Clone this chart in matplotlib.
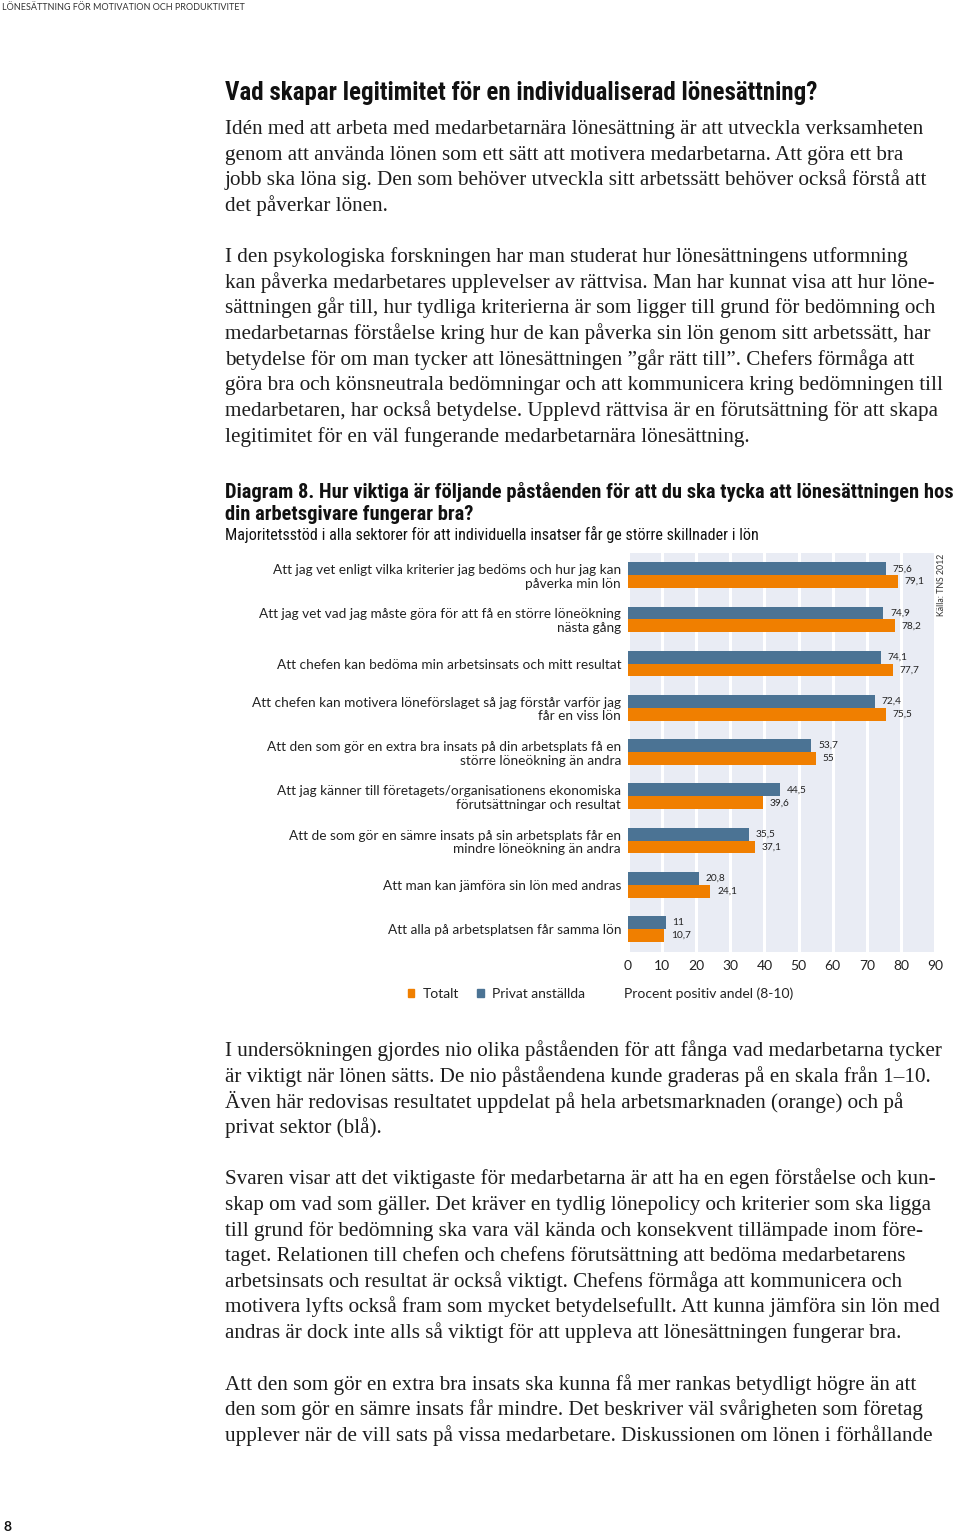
import matplotlib
matplotlib.use("Agg")
import matplotlib.pyplot as plt
from matplotlib.patches import Patch
from matplotlib import font_manager

W, H = 960, 1533

# chart data (Diagram 8)
categories = [
    "Att jag vet enligt vilka kriterier jag bedöms och hur jag kan\npåverka min lön",
    "Att jag vet vad jag måste göra för att få en större löneökning\nnästa gång",
    "Att chefen kan bedöma min arbetsinsats och mitt resultat",
    "Att chefen kan motivera löneförslaget så jag förstår varför jag\nfår en viss lön",
    "Att den som gör en extra bra insats på din arbetsplats få en\nstörre löneökning än andra",
    "Att jag känner till företagets/organisationens ekonomiska\nförutsättningar och resultat",
    "Att de som gör en sämre insats på sin arbetsplats får en\nmindre löneökning än andra",
    "Att man kan jämföra sin lön med andras",
    "Att alla på arbetsplatsen får samma lön",
]
privat = [75.6, 74.9, 74.1, 72.4, 53.7, 44.5, 35.5, 20.8, 11]
totalt = [79.1, 78.2, 77.7, 75.5, 55, 39.6, 37.1, 24.1, 10.7]
xticks = [0, 10, 20, 30, 40, 50, 60, 70, 80, 90]

BLUE = "#4b7394"
ORANGE = "#f07f00"
BG = "#e9ecf4"
TXT = "#1e1e1e"

names = {f.name for f in font_manager.fontManager.ttflist}
NARROW = ["Liberation Sans Narrow", "DejaVu Sans"] if "Liberation Sans Narrow" in names else ["Roboto Condensed", "DejaVu Sans"]
SANS = ["Lato", "DejaVu Sans"]
SERIF = ["Liberation Serif", "DejaVu Serif"]

fig = plt.figure(figsize=(W / 100, H / 100), dpi=100)
fig.patch.set_facecolor("white")


def T(px, py, s, **kw):
    fig.text(px / W, 1 - py / H, s, **kw)


# page header and footer
T(2, 10, "LÖNESÄTTNING FÖR MOTIVATION OCH PRODUKTIVITET", family=SANS, fontsize=6.5, color="#333333", va="baseline")
T(3, 1531, "8", family=SANS, fontsize=10, weight="bold", color="#111111", va="baseline")

# headline
T(225, 100, "Vad skapar legitimitet för en individualiserad lönesättning?", family=NARROW, fontsize=18, weight="bold", color="#111111", va="baseline")

body_top = [
    (128, "Idén med att arbeta med medarbetarnära lönesättning är att utveckla verksamheten"),
    (154, "genom att använda lönen som ett sätt att motivera medarbetarna. Att göra ett bra"),
    (179, "jobb ska löna sig. Den som behöver utveckla sitt arbetssätt behöver också förstå att"),
    (205, "det påverkar lönen."),
    (256, "I den psykologiska forskningen har man studerat hur lönesättningens utformning"),
    (282, "kan påverka medarbetares upplevelser av rättvisa. Man har kunnat visa att hur löne-"),
    (307, "sättningen går till, hur tydliga kriterierna är som ligger till grund för bedömning och"),
    (333, "medarbetarnas förståelse kring hur de kan påverka sin lön genom sitt arbetssätt, har"),
    (359, "betydelse för om man tycker att lönesättningen ”går rätt till”. Chefers förmåga att"),
    (384, "göra bra och könsneutrala bedömningar och att kommunicera kring bedömningen till"),
    (410, "medarbetaren, har också betydelse. Upplevd rättvisa är en förutsättning för att skapa"),
    (436, "legitimitet för en väl fungerande medarbetarnära lönesättning."),
]
body_bottom = [
    (1050, "I undersökningen gjordes nio olika påståenden för att fånga vad medarbetarna tycker"),
    (1076, "är viktigt när lönen sätts. De nio påståendena kunde graderas på en skala från 1–10."),
    (1102, "Även här redovisas resultatet uppdelat på hela arbetsmarknaden (orange) och på"),
    (1127, "privat sektor (blå)."),
    (1178, "Svaren visar att det viktigaste för medarbetarna är att ha en egen förståelse och kun-"),
    (1204, "skap om vad som gäller. Det kräver en tydlig lönepolicy och kriterier som ska ligga"),
    (1230, "till grund för bedömning ska vara väl kända och konsekvent tillämpade inom före-"),
    (1255, "taget. Relationen till chefen och chefens förutsättning att bedöma medarbetarens"),
    (1281, "arbetsinsats och resultat är också viktigt. Chefens förmåga att kommunicera och"),
    (1306, "motivera lyfts också fram som mycket betydelsefullt. Att kunna jämföra sin lön med"),
    (1332, "andras är dock inte alls så viktigt för att uppleva att lönesättningen fungerar bra."),
    (1384, "Att den som gör en extra bra insats ska kunna få mer rankas betydligt högre än att"),
    (1409, "den som gör en sämre insats får mindre. Det beskriver väl svårigheten som företag"),
    (1435, "upplever när de vill sats på vissa medarbetare. Diskussionen om lönen i förhållande"),
]
for y, line in body_top + body_bottom:
    T(225, y + 6, line, family=SERIF, fontsize=15.2, color=TXT, va="baseline")

# chart titles
T(225, 498, "Diagram 8. Hur viktiga är följande påståenden för att du ska tycka att lönesättningen hos",
  family=NARROW, fontsize=14.8, weight="bold", color="#111111", va="baseline")
T(225, 520, "din arbetsgivare fungerar bra?", family=NARROW, fontsize=14.8, weight="bold", color="#111111", va="baseline")
T(225, 540, "Majoritetsstöd i alla sektorer för att individuella insatser får ge större skillnader i lön",
  family=NARROW, fontsize=11.6, color="#111111", va="baseline")

# chart
ax = fig.add_axes([628 / W, 1 - 952 / H, (935 - 628) / W, (952 - 553) / H])
ax.set_facecolor(BG)
pos = list(range(len(categories)))
bh = 0.29
ax.barh([p - bh / 2 for p in pos], privat, height=bh, color=BLUE, zorder=3)
ax.barh([p + bh / 2 for p in pos], totalt, height=bh, color=ORANGE, zorder=3)


def fmt(v):
    return str(int(v)) if float(v).is_integer() else str(v).replace(".", ",")


for p, a, b in zip(pos, privat, totalt):
    ax.text(a + 2, p - bh / 2, fmt(a), fontsize=7.3, family=SANS, va="center", ha="left", color="#222222", zorder=4)
    ax.text(b + 2, p + bh / 2, fmt(b), fontsize=7.3, family=SANS, va="center", ha="left", color="#222222", zorder=4)

ax.set_xlim(0, 90)
ax.set_ylim(8.52, -0.5)
ax.set_xticks(xticks)
ax.set_xticklabels([str(t) for t in xticks], family=SANS, fontsize=10, color="#222222")
ax.set_yticks(pos)
ax.set_yticklabels(categories, family=SANS, fontsize=9.8, color="#222222", linespacing=1.15)
ax.tick_params(axis="both", length=0)
ax.tick_params(axis="x", pad=6)
ax.tick_params(axis="y", pad=5)
ax.grid(axis="x", color="white", linewidth=2.2, zorder=1)
for s in ax.spines.values():
    s.set_visible(False)

T(942, 585, "Källa: TNS 2012", family=SANS, fontsize=6.3, color="#333333", rotation=90, va="center", ha="center")

# legend
handles = [Patch(color=ORANGE), Patch(color=BLUE)]
fig.legend(handles, ["Totalt", "Privat anställda"], loc="center left",
           bbox_to_anchor=(395 / W, 1 - 994 / H), ncol=2, frameon=False,
           prop={"family": SANS, "size": 10}, handlelength=0.5, handleheight=0.5,
           handletextpad=0.6, columnspacing=1.3, labelcolor="#222222")
T(624, 994, "Procent positiv andel (8-10)", family=SANS, fontsize=10, color="#222222", va="center")

fig.savefig("out.png", dpi=100)
